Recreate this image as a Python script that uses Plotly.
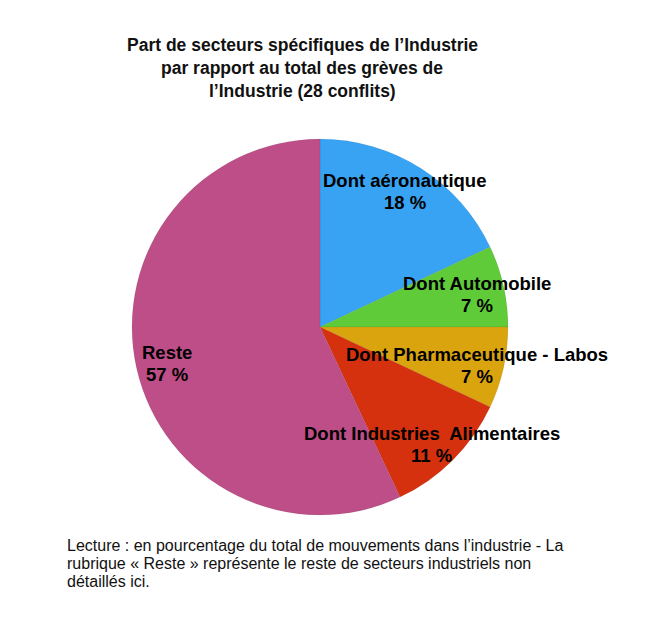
import numpy as np
import plotly.graph_objects as go

# Répartition des grèves de l'Industrie (28 conflits), en %
sectors = ["Dont aéronautique", "Dont Automobile", "Dont Pharmaceutique - Labos",
           "Dont Industries  Alimentaires", "Reste"]
shares = [18, 7, 7, 11, 57]
colors = ["#38A3F3", "#5FCB39", "#DAA40F", "#D6310E", "#BD4E88"]

title_lines = ["Part de secteurs spécifiques de l’Industrie",
               "par rapport au total des grèves de",
               "l’Industrie (28 conflits)"]
note_lines = ["Lecture : en pourcentage du total de mouvements dans l’industrie - La",
              "rubrique « Reste » représente le reste de secteurs industriels non",
              "détaillés ici."]

W, H = 661, 625
OFF = 8                      # page body margin
cx, cy, R = 320, 327, 188    # pie centre / radius (page pixels)
lcx, lcy = 317, 330          # centre used for label placement
label_r = [164, 164, 164, 162, 154]   # label distance from centre, px
FONT = "Liberation Sans, Arial, sans-serif"


def px(x):
    return (x - OFF) / W


def py(y):
    return 1 - (y - OFF) / H


fig = go.Figure(go.Pie(
    labels=sectors,
    values=shares,
    sort=False,
    direction="clockwise",
    rotation=0,
    marker=dict(colors=colors, line=dict(color="rgba(0,0,0,0.12)", width=0.5)),
    textinfo="none",
    hoverinfo="label+percent",
    domain=dict(x=[px(cx - R), px(cx + R)], y=[py(cy + R), py(cy - R)]),
    showlegend=False,
))

# labels at the middle angle of each slice
total = sum(shares)
cum = np.cumsum([0] + shares)
for i, (name, val) in enumerate(zip(sectors, shares)):
    mid = (cum[i] + val / 2) / total * 2 * np.pi
    lx = lcx + label_r[i] * np.sin(mid)
    ly = lcy - label_r[i] * np.cos(mid)
    for dy, txt in [(-11, name), (11, f"{val} %")]:
        fig.add_annotation(
            x=px(lx), y=py(ly + dy), xref="paper", yref="paper",
            xanchor="center", yanchor="middle",
            text=f"<b>{txt}</b>", showarrow=False,
            font=dict(family=FONT, size=18.5, color="black"),
        )

for k, line in enumerate(title_lines):
    fig.add_annotation(
        x=px(302), y=py(45 + 23 * k), xref="paper", yref="paper",
        xanchor="center", yanchor="middle",
        text=f"<b>{line}</b>", showarrow=False,
        font=dict(family=FONT, size=17.5, color="#111111"),
    )

for k, line in enumerate(note_lines):
    fig.add_annotation(
        x=px(65), y=py(545 + 18 * k), xref="paper", yref="paper",
        xanchor="left", yanchor="middle",
        text=line, showarrow=False,
        font=dict(family=FONT, size=16, color="#111111"),
    )

fig.update_layout(
    width=W, height=H,
    margin=dict(l=0, r=0, t=0, b=0),
    paper_bgcolor="white", plot_bgcolor="white",
)

fig.write_html("out.html")
